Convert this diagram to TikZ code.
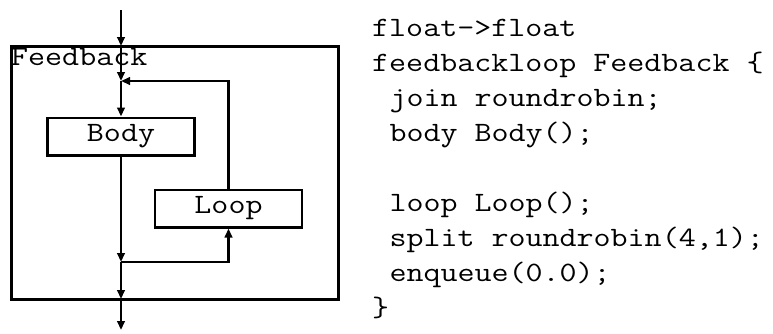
\documentclass[tikz,border=0pt]{standalone}
\usepackage{fontspec}
\setmonofont[FakeStretch=1.18]{Latin Modern Mono}
\usetikzlibrary{arrows.meta}
\begin{document}
\begin{tikzpicture}[x=1pt,y=-1pt,
  box/.style={draw,line width=2.5pt,minimum width=147pt,minimum height=37.5pt,inner sep=0pt,
    font=\ttfamily\fontsize{28}{30}\selectfont},
  conn/.style={line width=2.5pt,-{Triangle[length=9pt,width=7.5pt]}},
  code/.style={anchor=base west,inner sep=0pt,font=\ttfamily\fontsize{28}{30}\selectfont}]
\useasboundingbox (0,0) rectangle (773,333);
% outer feedback box
\node[draw,line width=3pt,minimum width=327pt,minimum height=253pt,inner sep=0pt] (fb) at (174.5,172.5) {};
\node[code] (fbl) at (11,65) {Feedback};
% inner boxes
\node[box] (body) at (121,136.5) {Body};
\node[box] (loop) at (228.5,208.5) {Loop};
% points
\coordinate (in) at (121,10);
\coordinate (fbtop) at (121,46);
\coordinate (join) at (121,81);
\coordinate (split) at (121,262);
\coordinate (fbbot) at (121,299);
\coordinate (out) at (121,330);
\coordinate (lb) at (228.5,81);
\coordinate (ls) at (228.5,262);
% connectors
\draw[conn] (in) -- (fbtop);
\draw[conn] (fbtop) -- (join);
\draw[conn] (join) -- (body.north);
\draw[conn] (body.south) -- (split);
\draw[conn] (split) -- (fbbot);
\draw[conn] (fbbot) -- (out);
\draw[conn] (split) -- (ls) -- (loop.south);
\draw[conn] (loop.north) -- (lb) -- (join);
% code
\node[code] (c1) at (372,36) {float->float};
\node[code] (c2) at (372,71) {feedbackloop Feedback \{};
\node[code] (c3) at (389.3,106) {join roundrobin;};
\node[code] (c4) at (389.3,141) {body Body();};
\node[code] (c5) at (389.3,211) {loop Loop();};
\node[code] (c6) at (389.3,246) {split roundrobin(4,1);};
\node[code] (c7) at (389.3,281) {enqueue(0.0);};
\node[code] (c8) at (372,316) {\}};
\end{tikzpicture}
\end{document}
